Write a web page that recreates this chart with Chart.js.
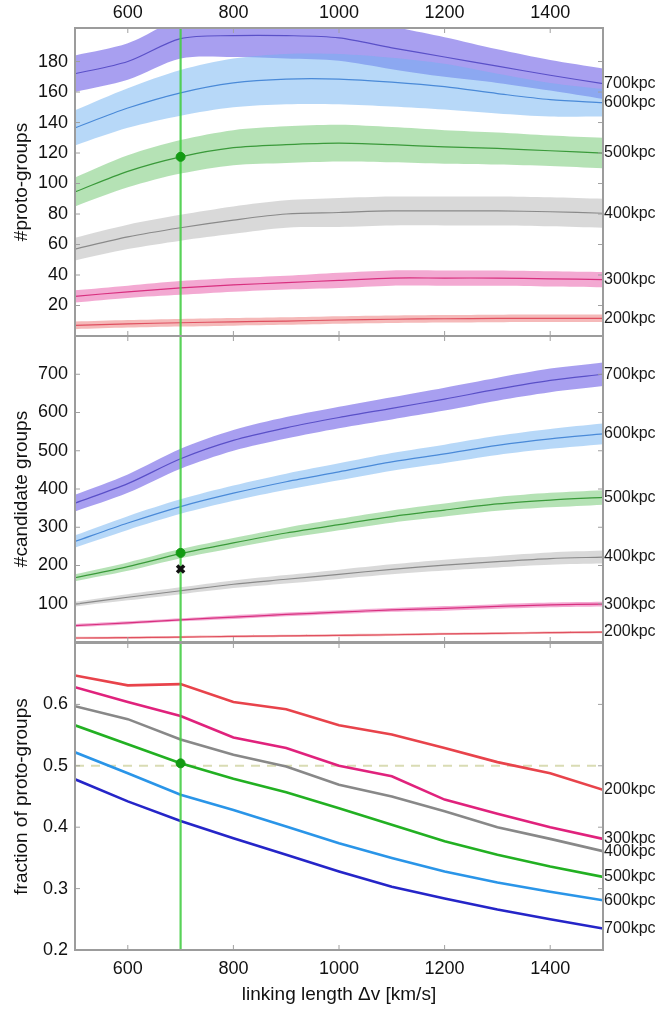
<!DOCTYPE html>
<html>
<head>
<meta charset="utf-8">
<script src="https://cdn.jsdelivr.net/npm/chart.js@4"></script>
<style>
  html, body { margin: 0; padding: 0; background: #fff; }
  #wrap { position: relative; width: 663px; height: 1011px; }
  canvas { position: absolute; left: 0; top: 0; }
</style>
</head>
<body>
<div id="wrap">
  <canvas id="c1" width="663" height="1011"></canvas>
  <canvas id="c2" width="663" height="1011"></canvas>
  <canvas id="c3" width="663" height="1011"></canvas>
</div>
<script>
// linking length steps (km/s)
const XV = [500, 600, 700, 800, 900, 1000, 1100, 1200, 1300, 1400, 1500];
const X_TICKS = [600, 800, 1000, 1200, 1400];
const RADII = ['200kpc', '300kpc', '400kpc', '500kpc', '600kpc', '700kpc'];
const CHOSEN_DV = 700;

// top panel: number of proto-groups (mean and half width of band)
const PROTO_TICKS = [20, 40, 60, 80, 100, 120, 140, 160, 180];
const proto200 = [7, 8, 8.7, 9.3, 9.8, 10.5, 11, 11.3, 11.5, 11.6, 11.6];
const proto200Err = [2.5, 2.5, 2.5, 2.5, 2.5, 2.5, 2.5, 2.5, 2.5, 2.5, 2.5];
const proto300 = [26, 29, 31.5, 33.5, 35, 36.5, 38, 38, 38, 37.5, 37];
const proto300Err = [4, 4, 4.5, 4.5, 4.5, 5, 5, 5, 5, 5, 5];
const proto400 = [57, 65, 71, 76, 80, 81, 82, 82, 82, 81.5, 80.5];
const proto400Err = [7.5, 8, 8.5, 9, 9, 9.5, 9.5, 9.5, 9.5, 9.5, 9.5];
const proto500 = [94.5, 108, 117.5, 123.5, 125.5, 126.5, 125.5, 124, 123, 121.5, 120];
const proto500Err = [9.5, 10.5, 11, 11.5, 12, 12, 11.5, 11, 10.5, 10, 10];
const proto600 = [136.5, 149.5, 159.5, 166, 168.5, 168.5, 166.5, 163.5, 159, 155, 153];
const proto600Err = [11.5, 13, 15, 16, 16.5, 16.5, 16, 15, 13, 11, 9];
const proto700 = [172, 180, 195, 197, 197, 195.5, 189, 183, 177, 171, 165.5];
const proto700Err = [12, 12, 13, 14, 15, 15, 14, 13, 11, 10, 10];
const protoChosen = 117.5;

// middle panel: number of candidate groups
const CAND_TICKS = [100, 200, 300, 400, 500, 600, 700];
const cand200 = [10.5, 11.5, 13, 14.5, 16, 17.5, 19, 21, 22.5, 24.5, 26];
const cand200Err = [3, 3, 3, 3, 3, 3, 3, 3, 3, 3, 3];
const cand300 = [43, 50, 58, 65, 72, 78, 84, 88, 93, 97, 99];
const cand300Err = [4, 4, 4, 5, 5, 5, 5, 6, 6, 6, 6];
const cand400 = [99, 117, 134, 151, 164, 177, 190, 201, 210, 218, 222];
const cand400Err = [6, 8, 9, 10, 11, 12, 13, 14, 15, 16, 17];
const cand500 = [168, 197, 231, 259, 285, 307, 328, 345, 361, 371, 378];
const cand500Err = [9, 11, 12, 13, 14, 15, 16, 17, 18, 19, 19];
const cand600 = [263, 311, 354, 389, 419, 445, 471, 492, 514, 531, 544];
const cand600Err = [16, 18, 19, 20, 21, 22, 23, 24, 25, 26, 27];
const cand700 = [363, 414, 479, 527, 560, 587, 611, 635, 661, 684, 700];
const cand700Err = [22, 24, 26, 27, 28, 28, 29, 30, 30, 31, 31];
const candChosen = 233;
const candCross = 191;

// bottom panel: fraction of proto-groups
const FRAC_TICKS = [0.2, 0.3, 0.4, 0.5, 0.6];
const frac200 = [0.647, 0.631, 0.633, 0.604, 0.592, 0.566, 0.551, 0.529, 0.506, 0.488, 0.461];
const frac300 = [0.628, 0.604, 0.581, 0.546, 0.529, 0.500, 0.483, 0.445, 0.422, 0.400, 0.381];
const frac400 = [0.597, 0.576, 0.543, 0.518, 0.499, 0.469, 0.450, 0.426, 0.400, 0.381, 0.361];
const frac500 = [0.566, 0.535, 0.504, 0.479, 0.457, 0.431, 0.404, 0.377, 0.355, 0.336, 0.319];
const frac600 = [0.522, 0.488, 0.453, 0.428, 0.401, 0.374, 0.350, 0.328, 0.310, 0.295, 0.281];
const frac700 = [0.478, 0.442, 0.410, 0.382, 0.355, 0.328, 0.303, 0.284, 0.266, 0.250, 0.235];
const fracChosen = 0.504;
const fracHalf = 0.5;

// colours, in RADII order
const bandCols = ['rgba(235,115,115,0.5)', 'rgba(235,112,180,0.6)', 'rgba(179,179,179,0.5)',
                  'rgba(107,197,107,0.5)', 'rgba(111,177,241,0.5)', 'rgba(110,95,230,0.6)'];
const thinCols = ['#e05060', '#d8307f', '#8a8a8a', '#3a9a3a', '#4a8ad8', '#5a50c8'];
const boldCols = ['#e8434b', '#e0227c', '#888888', '#22b022', '#2a95e8', '#2525c8'];

Chart.defaults.font.family = '"Liberation Sans", Arial, sans-serif';
Chart.defaults.color = '#111';

const pts = arr => arr.map((v, k) => ({ x: XV[k], y: v }));

function bandSets(mids, errs) {
  const sets = [];
  mids.forEach((m, i) => {
    sets.push({ data: m.map((v, k) => ({ x: XV[k], y: v - errs[i][k] })), borderWidth: 0,
                pointRadius: 0, fill: false, order: 3, tension: 0.3 });
    sets.push({ data: m.map((v, k) => ({ x: XV[k], y: v + errs[i][k] })), borderWidth: 0,
                pointRadius: 0, fill: '-1', backgroundColor: bandCols[i], order: 3, tension: 0.3 });
    sets.push({ data: pts(m), borderColor: thinCols[i], borderWidth: 1.2, pointRadius: 0,
                fill: false, order: 2, tension: 0.3 });
  });
  return sets;
}

function vline(min, max) {
  return { data: [{ x: CHOSEN_DV, y: min }, { x: CHOSEN_DV, y: max }], borderColor: 'rgba(70,205,70,0.9)',
           borderWidth: 2.2, pointRadius: 0, fill: false, order: 1 };
}

function dot(v) {
  return { data: [{ x: CHOSEN_DV, y: v }], showLine: false, pointRadius: 4.5, pointBackgroundColor: '#129a12',
           pointBorderColor: '#129a12', order: 0 };
}

// frame, inward tick marks and the radius labels at the right end
const frame = {
  id: 'frame',
  afterDatasetsDraw(chart, args, opts) {
    const { ctx, chartArea: a, scales: { x, y } } = chart;
    ctx.save();
    ctx.strokeStyle = '#a0a0a0';
    ctx.lineWidth = 1;
    ctx.beginPath();
    X_TICKS.forEach(v => {
      const px = x.getPixelForValue(v);
      ctx.moveTo(px, a.top); ctx.lineTo(px, a.top + 5);
      ctx.moveTo(px, a.bottom); ctx.lineTo(px, a.bottom - 5);
    });
    y.ticks.forEach(t => {
      const py = y.getPixelForValue(t.value);
      ctx.moveTo(a.left, py); ctx.lineTo(a.left + 5, py);
      ctx.moveTo(a.right, py); ctx.lineTo(a.right - 5, py);
    });
    ctx.stroke();
    ctx.lineWidth = 2;
    ctx.strokeStyle = '#9c9c9c';
    ctx.strokeRect(a.left, a.top, a.width, a.height);
    ctx.font = '16px "Liberation Sans", Arial, sans-serif';
    ctx.fillStyle = '#1a1a1a';
    ctx.textAlign = 'left';
    ctx.textBaseline = 'middle';
    opts.ends.forEach((v, i) => ctx.fillText(RADII[i], a.right + 1, y.getPixelForValue(v)));
    ctx.restore();
  }
};

function panelOpts(p) {
  return {
    responsive: false,
    animation: false,
    events: [],
    layout: { padding: { top: p.padTop, bottom: p.padBottom, left: 0, right: 60 } },
    plugins: { legend: { display: false }, tooltip: { enabled: false }, frame: { ends: p.ends } },
    scales: {
      x: {
        type: 'linear', min: 500, max: 1500, position: p.xPos, display: p.xShow,
        afterBuildTicks: s => { s.ticks = X_TICKS.map(v => ({ value: v })); },
        afterFit: s => { s.height = p.xHeight; },
        grid: { display: false, drawTicks: false }, border: { display: false },
        ticks: { font: { size: 18 }, padding: p.xPad, maxRotation: 0, callback: v => String(v) },
        title: p.xTitle ? { display: true, text: p.xTitle, font: { size: 19 }, padding: { top: 0, bottom: 5 } }
                        : { display: false }
      },
      y: {
        type: 'linear', min: p.min, max: p.max,
        afterBuildTicks: s => { s.ticks = p.ticks.map(v => ({ value: v })); },
        afterFit: s => { s.width = 75; },
        grid: { display: false, drawTicks: false }, border: { display: false },
        ticks: { font: { size: 18 }, padding: 7, callback: p.fmt || (v => String(v)) },
        title: { display: true, text: p.yTitle, font: { size: 19 }, padding: { top: 10, bottom: 0 } }
      }
    }
  };
}

// top panel
new Chart(document.getElementById('c1'), {
  type: 'line',
  data: { datasets: [
    ...bandSets([proto200, proto300, proto400, proto500, proto600, proto700],
                [proto200Err, proto300Err, proto400Err, proto500Err, proto600Err, proto700Err]),
    vline(0, 202),
    dot(protoChosen)
  ] },
  options: panelOpts({ padTop: 0, padBottom: 675, xPos: 'top', xShow: true, xHeight: 28, xPad: 4,
    min: 0, max: 202, ticks: PROTO_TICKS, yTitle: '#proto-groups',
    ends: [proto200, proto300, proto400, proto500, proto600, proto700].map(a => a[a.length - 1]) }),
  plugins: [frame]
});

// middle panel
new Chart(document.getElementById('c2'), {
  type: 'line',
  data: { datasets: [
    ...bandSets([cand200, cand300, cand400, cand500, cand600, cand700],
                [cand200Err, cand300Err, cand400Err, cand500Err, cand600Err, cand700Err]),
    vline(0, 800),
    dot(candChosen),
    { data: [{ x: CHOSEN_DV, y: candCross }], showLine: false, pointStyle: 'crossRot', pointRadius: 5,
      pointBorderWidth: 3.5, pointBorderColor: '#111', order: 0 }
  ] },
  options: panelOpts({ padTop: 336, padBottom: 369, xPos: 'bottom', xShow: false, xHeight: 0, xPad: 0,
    min: 0, max: 800, ticks: CAND_TICKS, yTitle: '#candidate groups',
    ends: [cand200, cand300, cand400, cand500, cand600, cand700].map(a => a[a.length - 1]) }),
  plugins: [frame]
});

// bottom panel
const fracs = [frac200, frac300, frac400, frac500, frac600, frac700];
new Chart(document.getElementById('c3'), {
  type: 'line',
  data: { datasets: [
    { data: [{ x: 500, y: fracHalf }, { x: 1500, y: fracHalf }], borderColor: '#d9dcb4', borderWidth: 2,
      borderDash: [9, 7], pointRadius: 0, order: 4 },
    ...fracs.map((f, i) => ({ data: pts(f), borderColor: boldCols[i], borderWidth: 2.6, pointRadius: 0,
      fill: false, order: 2 })),
    vline(0.2, 0.7),
    dot(fracChosen)
  ] },
  options: panelOpts({ padTop: 643, padBottom: 0, xPos: 'bottom', xShow: true, xHeight: 61, xPad: 8,
    xTitle: 'linking length \u0394v [km/s]',
    min: 0.2, max: 0.7, ticks: FRAC_TICKS, yTitle: 'fraction of proto-groups', fmt: v => v.toFixed(1),
    ends: fracs.map(a => a[a.length - 1]) }),
  plugins: [frame]
});
</script>
</body>
</html>
